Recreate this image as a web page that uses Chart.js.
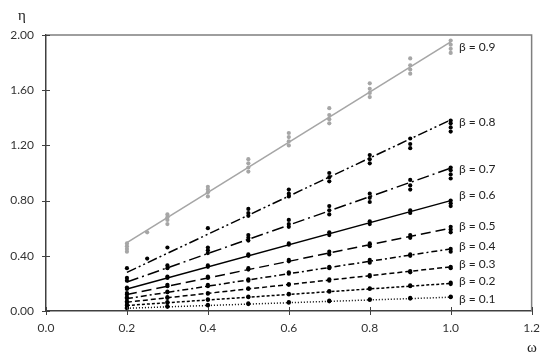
<!DOCTYPE html>
<html>
<head>
<meta charset="utf-8">
<script src="https://cdn.jsdelivr.net/npm/chart.js@4/dist/chart.umd.min.js"></script>
<style>
    html, body { margin: 0; padding: 0; background: #fff; }
    #wrap { width: 550px; height: 358px; position: relative; }
</style>
</head>
<body>
<div id="wrap"><canvas id="etaChart"></canvas></div>
<script>
// Values
const betas = ['0.1', '0.2', '0.3', '0.4', '0.5', '0.6', '0.7', '0.8', '0.9'];
const omegaPts = [0.2, 0.3, 0.4, 0.5, 0.6, 0.7, 0.8, 0.9, 1.0];
const xTicks = [0.0, 0.2, 0.4, 0.6, 0.8, 1.0, 1.2];
const yTicks = [0.00, 0.40, 0.80, 1.20, 1.60, 2.00];

// measured points, one list per omega
const eta01 = [[0.02, 0.025], [0.03, 0.035], [0.04, 0.045], [0.05, 0.055], [0.06, 0.065], [0.07, 0.075], [0.08, 0.085], [0.09, 0.095], [0.10, 0.105]];
const eta02 = [[0.04, 0.045], [0.06, 0.065], [0.08, 0.085], [0.10, 0.105], [0.12, 0.125], [0.14, 0.145], [0.16, 0.165], [0.18, 0.185], [0.195, 0.205]];
const eta03 = [[0.06, 0.07], [0.095, 0.10], [0.125, 0.13], [0.16, 0.165], [0.19, 0.195], [0.22, 0.23], [0.25, 0.26], [0.28, 0.29], [0.31, 0.32]];
const eta04 = [[0.09, 0.10], [0.135, 0.14], [0.18, 0.19], [0.22, 0.23], [0.27, 0.28], [0.31, 0.32], [0.35, 0.37], [0.40, 0.41], [0.43, 0.45]];
const eta05 = [[0.12, 0.13], [0.18, 0.19], [0.24, 0.25], [0.30, 0.31], [0.36, 0.37], [0.41, 0.43], [0.47, 0.49], [0.53, 0.55], [0.57, 0.59, 0.61]];
const eta06 = [[0.16, 0.17], [0.24, 0.25], [0.32, 0.33], [0.40, 0.41], [0.48, 0.49], [0.55, 0.57], [0.63, 0.65], [0.71, 0.73], [0.76, 0.78, 0.80]];
const eta07 = [[0.22, 0.24], [0.31, 0.33], [0.42, 0.44, 0.46], [0.51, 0.53, 0.55], [0.61, 0.63, 0.66], [0.70, 0.73, 0.76], [0.79, 0.82, 0.85], [0.88, 0.91, 0.95], [0.96, 0.99, 1.02, 1.04]];
const eta08 = [[0.31], [0.46], [0.60], [0.69, 0.71, 0.74], [0.83, 0.85, 0.88], [0.94, 0.97, 1.00], [1.07, 1.10, 1.13], [1.18, 1.21, 1.25], [1.30, 1.33, 1.36, 1.38]];
const eta09 = [[0.43, 0.45, 0.47, 0.49], [0.63, 0.66, 0.68, 0.70], [0.83, 0.86, 0.88, 0.90], [1.01, 1.04, 1.07, 1.10], [1.20, 1.23, 1.26, 1.29], [1.36, 1.39, 1.42, 1.47], [1.55, 1.58, 1.61, 1.65], [1.72, 1.75, 1.78, 1.83], [1.87, 1.90, 1.93, 1.96]];
const extra08 = [0.25, 0.38];
const extra09 = [0.25, 0.57];

// fitted lines, eta at omega = 0.2 and 1.0
const fitOmega = [0.2, 1.0];
const fitStart = [0.02, 0.04, 0.064, 0.09, 0.12, 0.16, 0.21, 0.28, 0.495];
const fitEnd = [0.10, 0.20, 0.32, 0.45, 0.60, 0.80, 1.035, 1.385, 1.95];

// where each beta label sits (eta units)
const labelEta = [0.087, 0.217, 0.341, 0.473, 0.616, 0.84, 1.03, 1.37, 1.91];

const allEta = [eta01, eta02, eta03, eta04, eta05, eta06, eta07, eta08, eta09];
const extras = [null, null, null, null, null, null, null, extra08, extra09];
const dashes = [[1, 2], [3, 2], [5, 3], [6, 3, 2, 3], [10, 5], [], [12, 4, 2, 4], [10, 3, 2, 3, 2, 3], []];
const GREY = '#a6a6a6';

const datasets = [];
betas.forEach(function(b, i) {
    const color = i === 8 ? GREY : '#000';
    const pts = [];
    allEta[i].forEach(function(vals, j) {
        vals.forEach(function(v) { pts.push({ x: omegaPts[j], y: v }); });
    });
    if (extras[i]) pts.push({ x: extras[i][0], y: extras[i][1] });
    datasets.push({
        type: 'line',
        label: 'fit ' + b,
        data: [{ x: fitOmega[0], y: fitStart[i] }, { x: fitOmega[1], y: fitEnd[i] }],
        borderColor: color,
        borderWidth: i === 8 ? 1.6 : 1.5,
        borderDash: dashes[i],
        pointRadius: 0,
        fill: false
    });
    datasets.push({
        type: 'scatter',
        label: 'β = ' + b,
        data: pts,
        backgroundColor: color,
        borderWidth: 0,
        pointRadius: 2.1
    });
});

// frame, crossing ticks, axis symbols and beta labels
const decorations = {
    id: 'decorations',
    afterDraw(chart) {
        const ctx = chart.ctx;
        const a = chart.chartArea;
        const xs = chart.scales.x, ys = chart.scales.y;
        ctx.save();
        ctx.strokeStyle = '#7f7f7f';
        ctx.lineWidth = 1.5;
        ctx.beginPath();
        ctx.moveTo(a.left, a.top);
        ctx.lineTo(a.right, a.top);
        ctx.lineTo(a.right, a.bottom);
        ctx.stroke();

        ctx.strokeStyle = '#404040';
        ctx.lineWidth = 1;
        ctx.beginPath();
        yTicks.forEach(function(t) {
            const y = Math.round(ys.getPixelForValue(t)) + 0.5;
            ctx.moveTo(a.left - 4, y);
            ctx.lineTo(a.left + 4, y);
        });
        xTicks.forEach(function(t) {
            const x = Math.round(xs.getPixelForValue(t)) + 0.5;
            ctx.moveTo(x, a.bottom - 4);
            ctx.lineTo(x, a.bottom + 4);
        });
        ctx.stroke();

        ctx.fillStyle = '#222';
        ctx.font = '15px "Liberation Serif"';
        ctx.textAlign = 'center';
        ctx.textBaseline = 'middle';
        ctx.fillText('η', 22, 16);
        ctx.fillText('ω', 532, 348);

        ctx.font = '12px Lato';
        ctx.textAlign = 'left';
        ctx.fillStyle = '#222';
        betas.forEach(function(b, i) {
            ctx.fillText('β = ' + b, 459, ys.getPixelForValue(labelEta[i]));
        });
        ctx.restore();
    }
};

const ctx = document.getElementById('etaChart').getContext('2d');
new Chart(ctx, {
    data: { datasets: datasets },
    options: {
        responsive: true,
        maintainAspectRatio: false,
        animation: false,
        layout: { padding: { top: 35, right: 18, left: 0, bottom: 0 } },
        plugins: {
            legend: { display: false },
            tooltip: { enabled: false }
        },
        scales: {
            x: {
                type: 'linear',
                min: 0,
                max: 1.2,
                afterBuildTicks: function(axis) { axis.ticks = xTicks.map(function(v) { return { value: v }; }); },
                afterFit: function(axis) { axis.height = 47; },
                grid: { display: false, drawTicks: false },
                border: { display: true, color: '#404040', width: 1.5 },
                ticks: {
                    padding: 10,
                    color: '#333',
                    font: { family: 'Lato', size: 12 },
                    maxRotation: 0,
                    callback: function(v) { return Number(v).toFixed(1); }
                }
            },
            y: {
                type: 'linear',
                min: 0,
                max: 2,
                afterBuildTicks: function(axis) { axis.ticks = yTicks.map(function(v) { return { value: v }; }); },
                afterFit: function(axis) { axis.width = 46; },
                grid: { display: false, drawTicks: false },
                border: { display: true, color: '#404040', width: 1.5 },
                ticks: {
                    padding: 12,
                    color: '#333',
                    font: { family: 'Lato', size: 12 },
                    callback: function(v) { return Number(v).toFixed(2); }
                }
            }
        }
    },
    plugins: [decorations]
});
</script>
</body>
</html>
